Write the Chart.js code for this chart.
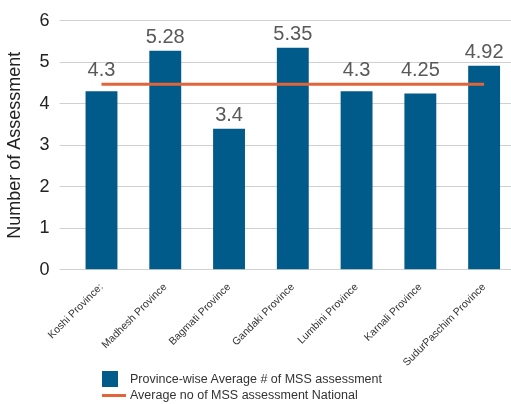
<!DOCTYPE html>
<html lang="en">
<head>
<meta charset="UTF-8">
<script src="https://cdn.jsdelivr.net/npm/chart.js@4.4.0/dist/chart.umd.min.js"></script>
<style>
  body { margin: 0; background: #fff; }
  #wrap { position: relative; width: 511px; height: 404px; overflow: hidden; }
  #legend { position: absolute; left: 102px; top: 371px; font-family: "Liberation Sans", Arial, sans-serif; font-size: 12.5px; color: #333; }
  .item { display: flex; align-items: center; height: 16px; }
  .box { width: 16px; height: 16px; background: #005B8A; margin-right: 12px; }
  .ln { width: 24px; height: 3px; background: #E2643A; margin-right: 4px; }
</style>
<title>MSS assessment by province</title>
</head>
<body>
<div id="wrap">
  <canvas id="chart" width="516" height="404"></canvas>
  <div id="legend">
    <div class="item"><span class="box"></span>Province-wise Average # of MSS assessment</div>
    <div class="item"><span class="ln"></span>Average no of MSS assessment National</div>
  </div>
</div>
<script>
const provinces = ['Koshi Province:', 'Madhesh Province', 'Bagmati Province', 'Gandaki Province',
  'Lumbini Province', 'Karnali Province', 'SudurPaschim Province'];
const provinceAvg = [4.3, 5.28, 3.4, 5.35, 4.3, 4.25, 4.92];
const nationalAvg = [4.47, 4.47, 4.47, 4.47, 4.47, 4.47, 4.47];
const yTicks = [0, 1, 2, 3, 4, 5, 6];

// value labels above the bars, lifted over the national line where they would clash
const barLabels = {
  id: 'barLabels',
  afterDatasetsDraw(chart) {
    const ctx = chart.ctx;
    const bars = chart.getDatasetMeta(1).data;
    const line = chart.getDatasetMeta(0).data;
    ctx.save();
    ctx.font = '20px "Liberation Sans", Arial, sans-serif';
    ctx.fillStyle = '#595959';
    ctx.textAlign = 'center';
    ctx.textBaseline = 'bottom';
    bars.forEach((bar, i) => {
      let y = bar.y;
      if (bar.y > line[i].y && bar.y - line[i].y < 20) y = line[i].y - 1;
      ctx.fillText(String(provinceAvg[i]), bar.x, y - 3);
    });
    ctx.restore();
  }
};

new Chart(document.getElementById('chart'), {
  data: {
    labels: provinces,
    datasets: [{
      type: 'line',
      label: 'Average no of MSS assessment National',
      data: nationalAvg,
      borderColor: '#E2643A',
      borderWidth: 3,
      pointRadius: 0,
      order: 0
    }, {
      type: 'bar',
      label: 'Province-wise Average # of MSS assessment',
      data: provinceAvg,
      backgroundColor: '#005B8A',
      barPercentage: 0.5,
      categoryPercentage: 1,
      order: 1
    }]
  },
  options: {
    responsive: false,
    animation: false,
    layout: { padding: { left: 0, right: 0, top: 1, bottom: 32 } },
    plugins: { legend: { display: false }, tooltip: { enabled: false } },
    scales: {
      x: {
        grid: { display: false },
        border: { display: false },
        ticks: {
          minRotation: 45, maxRotation: 45,
          color: '#333',
          font: { family: '"Liberation Sans", Arial, sans-serif', size: 10.5 }
        }
      },
      y: {
        min: 0, max: 6,
        afterBuildTicks: axis => { axis.ticks = yTicks.map(v => ({ value: v })); },
        grid: { color: '#d0d0d0', tickLength: 10 },
        border: { display: false },
        ticks: {
          color: '#222',
          padding: 10,
          font: { family: '"Liberation Sans", Arial, sans-serif', size: 18 }
        },
        title: {
          display: true,
          text: 'Number of Assessment',
          color: '#222',
          font: { family: '"Liberation Sans", Arial, sans-serif', size: 18 }
        }
      }
    }
  },
  plugins: [barLabels]
});
</script>
</body>
</html>
